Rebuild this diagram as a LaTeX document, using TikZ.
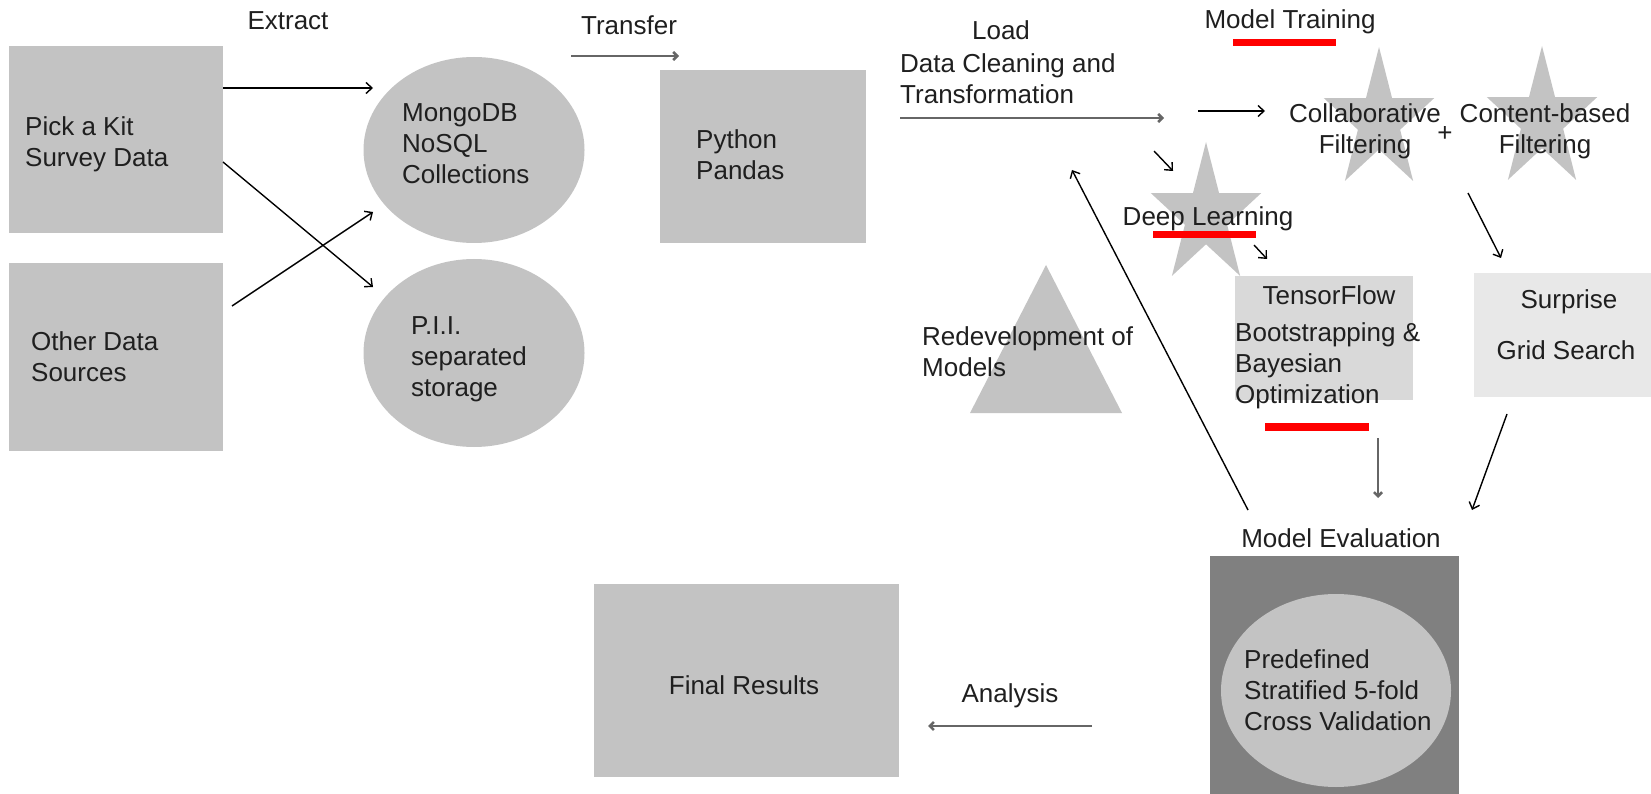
\documentclass[tikz,border=0pt]{standalone}
\usepackage{fontspec}
\setmainfont{Liberation Sans}
\definecolor{shapegray}{HTML}{C3C3C3}
\definecolor{tfgray}{HTML}{D9D9D9}
\definecolor{palegray}{HTML}{E8E8E8}
\definecolor{darkbox}{HTML}{808080}
\definecolor{arrowgray}{HTML}{666666}
\definecolor{inkgray}{HTML}{1F1F1F}

\usetikzlibrary{shapes.geometric, arrows.meta}

\tikzstyle{block}=[
    fill=shapegray,
    inner sep=0pt,
  ]
\tikzstyle{blob}=[
    ellipse,
    fill=shapegray,
    inner sep=0pt,
  ]
\tikzstyle{lbl}=[
    inner sep=0pt,
    text=inkgray,
    font=\fontsize{26}{31}\selectfont,
  ]
\tikzstyle{dep}=[
    -{Straight Barb[length=6pt, width=11pt]},
    line width=1.4pt,
  ]
\tikzstyle{flow}=[
    -{Straight Barb[length=4pt, width=8pt]},
    line width=2.6pt,
    draw=arrowgray,
  ]

\begin{document}
\begin{tikzpicture}[x=1pt, y=-1pt]
      \useasboundingbox (0,0) rectangle (1651,794);
      % shapes
      \node[block, minimum width=214pt, minimum height=187pt] (kit) at (116,139.5) {};
      \node[block, minimum width=214pt, minimum height=188pt] (other) at (116,357) {};
      \node[blob, minimum width=221pt, minimum height=186pt] (mongo) at (474,150) {};
      \node[blob, minimum width=221pt, minimum height=188pt] (pii) at (474,353) {};
      \node[block, minimum width=206pt, minimum height=173pt] (pandas) at (763,156.5) {};
      \foreach \cx/\cy in {1379/121, 1542/120, 1206/216} {%
        \fill[shapegray, shift={(\cx,\cy)}] (-90:58 and 74)
          \foreach \k in {0,...,4} {-- (-54+72*\k:22.2 and 28.3) -- (-18+72*\k:58 and 74)} -- cycle;
      }
      \fill[shapegray] (1046,265) -- (1122,413) -- (970,413) -- cycle;
      \node[block, fill=tfgray, minimum width=178pt, minimum height=124pt] (tensor) at (1324,338) {};
      \node[block, fill=palegray, minimum width=177pt, minimum height=124pt] (surprise) at (1562.5,335) {};
      \node[block, fill=darkbox, minimum width=249pt, minimum height=240pt] (eval) at (1334.5,676) {};
      \node[blob, minimum width=230pt, minimum height=193pt] (cv) at (1336,690.5) {};
      \node[block, minimum width=305pt, minimum height=193pt] (final) at (746.5,680.5) {};
      \fill[red] (1233,39) rectangle (1336,46);
      \fill[red] (1153,231) rectangle (1256,238);
      \fill[red] (1265,423) rectangle (1369,431);
      % texts
      \node[lbl] (extract) at (288,21) {Extract};
      \node[lbl, align=left, anchor=west] (kittext) at (25,144) {Pick a Kit\\Survey Data};
      \node[lbl, align=left, anchor=west] (othertext) at (31,357) {Other Data\\Sources};
      \node[lbl, align=left, anchor=west] (mongotext) at (402,144) {MongoDB\\NoSQL\\Collections};
      \node[lbl, align=left, anchor=west] (piitext) at (411,359) {P.I.I.\\separated\\storage};
      \node[lbl] (transfer) at (629,25) {Transfer};
      \node[lbl, align=left, anchor=west] (pandastext) at (696,155) {Python\\Pandas};
      \node[lbl] (load) at (1001,30) {Load};
      \node[lbl, align=left, anchor=west] (cleaning) at (900,79) {Data Cleaning and\\Transformation};
      \node[lbl] (training) at (1290,22) {Model Training};
      \node[lbl, align=center] (collabtext) at (1365,131) {Collaborative\\Filtering};
      \node[lbl, align=center] (contenttext) at (1545,131) {Content-based\\Filtering};
      \node[lbl] (plus) at (1445,134) {+};
      \node[lbl] (deeptext) at (1208,219) {Deep Learning};
      \node[lbl, align=left, anchor=west] (redo) at (922,352) {Redevelopment of\\Models};
      \node[lbl] (tftext) at (1329,295) {TensorFlow};
      \node[lbl, align=left, anchor=west] (bayes) at (1235,366) {Bootstrapping \&\\Bayesian\\Optimization};
      \node[lbl] (surtext) at (1569,302) {Surprise};
      \node[lbl] (grid) at (1566,350) {Grid Search};
      \node[lbl] (evaltext) at (1341,538) {Model Evaluation};
      \node[lbl, align=left, anchor=west] (cvtext) at (1244,690) {Predefined\\Stratified 5-fold\\Cross Validation};
      \node[lbl] (finaltext) at (744,685) {Final Results};
      \node[lbl] (analysis) at (1010,696) {Analysis};
      % arrow ends
      \coordinate (kitA) at (223,88);     \coordinate (mongoA) at (373,88);
      \coordinate (kitB) at (223,162);    \coordinate (piiB) at (373,287);
      \coordinate (otherA) at (232,306);  \coordinate (mongoB) at (373,212);
      \coordinate (transS) at (571,56);   \coordinate (transE) at (679,56);
      \coordinate (loadS) at (900,118);   \coordinate (loadE) at (1164,118);
      \coordinate (trainS) at (1198,111); \coordinate (trainE) at (1265,111);
      \coordinate (deepS) at (1154,151);  \coordinate (deepE) at (1173,171);
      \coordinate (tfS) at (1254,245);    \coordinate (tfE) at (1267,259);
      \coordinate (surS) at (1468,193);   \coordinate (surE) at (1501,258);
      \coordinate (tfdS) at (1378,438);   \coordinate (tfdE) at (1378,498);
      \coordinate (surdS) at (1507,414);  \coordinate (surdE) at (1472,510);
      \coordinate (redoS) at (1248,510);  \coordinate (redoE) at (1072,170);
      \coordinate (anaS) at (1092,726);   \coordinate (anaE) at (928,726);
      \draw[dep] (kitA) -- (mongoA);
      \draw[dep] (kitB) -- (piiB);
      \draw[dep] (otherA) -- (mongoB);
      \draw[flow] (transS) -- (transE);
      \draw[flow] (loadS) -- (loadE);
      \draw[dep] (trainS) -- (trainE);
      \draw[dep] (deepS) -- (deepE);
      \draw[dep] (tfS) -- (tfE);
      \draw[dep] (surS) -- (surE);
      \draw[flow] (tfdS) -- (tfdE);
      \draw[dep] (surdS) -- (surdE);
      \draw[dep] (redoS) -- (redoE);
      \draw[flow] (anaS) -- (anaE);
    \end{tikzpicture}
\end{document}
